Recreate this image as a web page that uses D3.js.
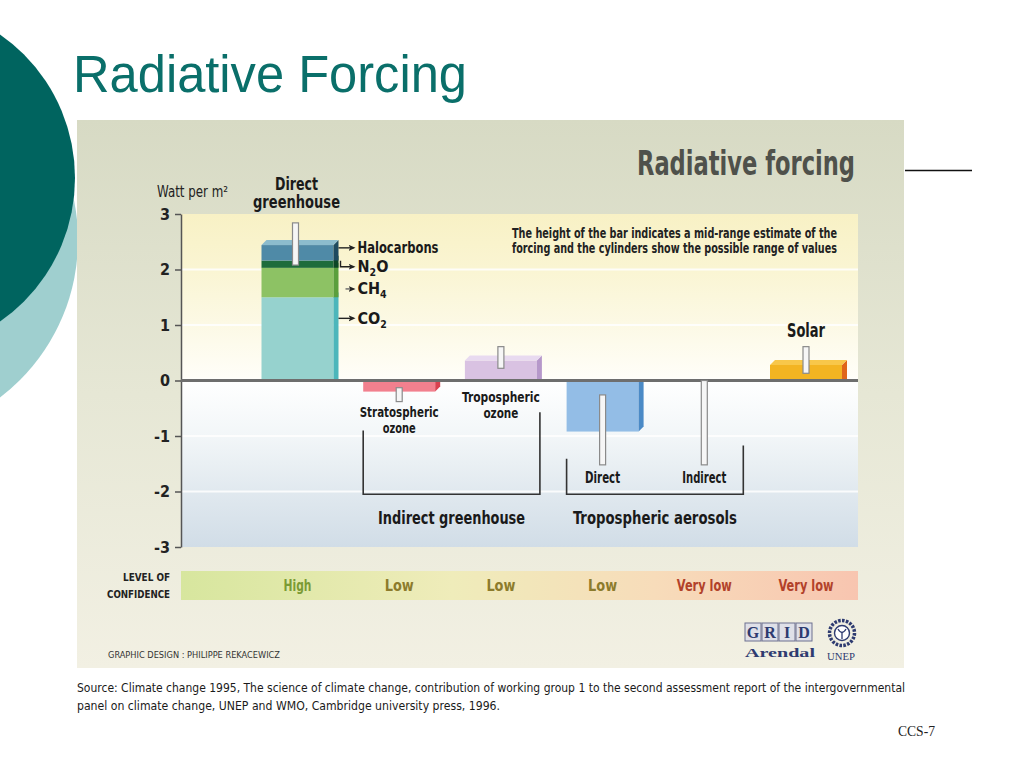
<!DOCTYPE html>
<html>
<head>
<meta charset="utf-8">
<script src="https://cdn.jsdelivr.net/npm/d3@7"></script>
<style>
  body { margin: 0; background: #fff; }
  svg { display: block; }
</style>
</head>
<body>
<div id="chart"></div>
<script>
// ---- data (W/m2) ----
const categories = ["Direct greenhouse", "Stratospheric ozone", "Tropospheric ozone",
                    "Direct aerosols", "Indirect aerosols", "Solar"];
const ghgGases  = ["CO2", "CH4", "N2O", "Halocarbons"];
const ghgValues = [1.50, 0.53, 0.13, 0.28];
const barValues = [null, -0.20, 0.36, -0.92, null, 0.28];   // greenhouse is the stack
const rangeLow  = [2.08, -0.38, 0.22, -1.52, -1.52, 0.13];
const rangeHigh = [2.84, -0.13, 0.61, -0.26, 0.00, 0.61];
const confidence = ["High", "Low", "Low", "Low", "Very low", "Very low"];
const yTicks = [3, 2, 1, 0, -1, -2, -3];

const NARROW = "'Liberation Sans Narrow','DejaVu Sans Condensed','Arial Narrow',sans-serif";
const SANS = "'Liberation Sans',Arial,sans-serif";
const SERIF = "'Liberation Serif','Times New Roman',serif";

const W = 1024, H = 768;
const svg = d3.select('#chart').append('svg').attr('width', W).attr('height', H);
const defs = svg.append('defs');

function grad(id, vertical, stops) {
  const g = defs.append('linearGradient').attr('id', id)
    .attr('x1', 0).attr('y1', 0).attr('x2', vertical ? 0 : 1).attr('y2', vertical ? 1 : 0);
  stops.forEach(s => g.append('stop').attr('offset', s[0]).attr('stop-color', s[1]));
}
grad('panelBg', true, [[0, '#d7dac4'], [0.5, '#e6e7d5'], [1, '#f2f0e3']]);
grad('plotBg', true, [[0, '#f8f1c5'], [0.17, '#faf5d3'], [0.33, '#fcf9e5'], [0.49, '#fffef8'],
                      [0.5, '#ffffff'], [0.67, '#f2f6f8'], [0.83, '#e1e9ef'], [1, '#d1dde7']]);
grad('confBg', false, [[0, '#d7e69e'], [0.4, '#efecba'], [0.7, '#f7dcba'], [1, '#f8c5b0']]);

defs.append('marker').attr('id', 'arr').attr('markerUnits', 'userSpaceOnUse')
  .attr('markerWidth', 7).attr('markerHeight', 7).attr('refX', 5).attr('refY', 3.5)
  .attr('orient', 'auto')
  .append('path').attr('d', 'M0,0.5 L7,3.5 L0,6.5 L1.8,3.5 Z').attr('fill', '#222');

function label(g, str, x, y, o) {
  const t = g.append('text').attr('x', x).attr('y', y).text(str)
    .attr('font-family', o.font || NARROW)
    .attr('font-size', o.size || 14)
    .attr('font-weight', o.bold ? 'bold' : 'normal')
    .attr('fill', o.fill || '#1a1a1a')
    .attr('text-anchor', o.anchor || 'start');
  if (o.w) t.attr('textLength', o.w).attr('lengthAdjust', 'spacingAndGlyphs');
  return t;
}

// ---- slide decoration ----
svg.append('circle').attr('cx', -120).attr('cy', 240).attr('r', 198).attr('fill', '#9fcfcf');
svg.append('circle').attr('cx', -100).attr('cy', 178).attr('r', 175).attr('fill', '#00645f');
label(svg, 'Radiative Forcing', 73, 92, {font: SANS, size: 51, fill: '#0a6f6a', w: 394});

svg.append('path').attr('d', 'M905,170.5H972').attr('stroke', '#111').attr('stroke-width', 1.5);
label(svg, 'CCS-7', 898, 736, {font: SERIF, size: 14, fill: '#222', w: 37});

// ---- picture panel ----
svg.append('rect').attr('x', 77).attr('y', 120).attr('width', 827).attr('height', 548)
  .attr('fill', 'url(#panelBg)');

const xL = 181, xR = 858;
const y = d3.scaleLinear().domain([-3, 3]).range([547, 214]);
const x = d3.scalePoint().domain(categories).range([297.5, 806]);
const barW = 72, dep = 5;

const chart = svg.append('g');
chart.append('rect').attr('x', xL).attr('y', y(3)).attr('width', xR - xL)
  .attr('height', y(-3) - y(3)).attr('fill', 'url(#plotBg)');
chart.selectAll('line.grid').data(yTicks.filter(d => d !== 0 && Math.abs(d) !== 3))
  .join('line').attr('class', 'grid')
  .attr('x1', xL).attr('x2', xR).attr('y1', d => y(d)).attr('y2', d => y(d))
  .attr('stroke', '#ffffff').attr('stroke-width', 2).attr('opacity', 0.85);

label(chart, 'Radiative forcing', 637, 175, {size: 33, bold: true, fill: '#4f514b', w: 218});
label(chart, 'The height of the bar indicates a mid-range estimate of the', 512, 238,
  {size: 13.5, bold: true, fill: '#222', w: 325});
label(chart, 'forcing and the cylinders show the possible range of values', 512, 253,
  {size: 13.5, bold: true, fill: '#222', w: 325});

// y axis
const axis = chart.append('g').attr('transform', `translate(${xL},0)`)
  .call(d3.axisLeft(y).tickValues(yTicks).tickSize(6).tickSizeOuter(0).tickPadding(5)
    .tickFormat(d => String(d)));
axis.select('.domain').attr('stroke', '#555').attr('stroke-width', 1.5);
axis.selectAll('.tick line').attr('stroke', '#555').attr('stroke-width', 1.5);
axis.selectAll('.tick text').attr('font-family', NARROW).attr('font-size', 16)
  .attr('font-weight', 'bold').attr('fill', '#222');

label(chart, 'Watt per m\u00b2', 157, 197, {size: 15, fill: '#222', w: 71});

// ---- 3D bars ----
function bar3d(g, cx, v0, v1, c, withTop) {
  const x0 = cx - barW / 2, x1 = cx + barW / 2;
  const yt = y(v1), yb = y(v0);
  const neg = v1 <= 0;
  g.append('rect').attr('x', x0).attr('y', yt).attr('width', barW).attr('height', yb - yt)
    .attr('fill', c.front);
  const side = neg
    ? [[x1, yt], [x1 + dep, yt], [x1 + dep, yb - dep], [x1, yb]]
    : [[x1, yt], [x1 + dep, yt - dep], [x1 + dep, yb], [x1, yb]];
  g.append('polygon').attr('points', side.join(' ')).attr('fill', c.side);
  if (withTop && !neg) {
    g.append('polygon')
      .attr('points', [[x0, yt], [x0 + dep, yt - dep], [x1 + dep, yt - dep], [x1, yt]].join(' '))
      .attr('fill', c.top);
  }
}

const ghgColors = {
  CO2: {front: '#96d2ce', side: '#4cb6bb', top: '#b8e2de'},
  CH4: {front: '#8dc264', side: '#5b9f3d', top: '#b0d68e'},
  N2O: {front: '#1d6c3b', side: '#0d4526', top: '#3d8a58'},
  Halocarbons: {front: '#4f8aa7', side: '#1e4a5f', top: '#8cbccd'}
};
const barColors = [null,
  {front: '#f2808e', side: '#d9414f', top: '#f6a0aa'},
  {front: '#d9c2e2', side: '#b698ca', top: '#e8daf0'},
  {front: '#93bde6', side: '#4b8ac6', top: '#b8d4f0'},
  null,
  {front: '#f3b422', side: '#e0661a', top: '#f8c74a'}];

const bars = chart.append('g');
const row = {};
ghgGases.forEach((k, i) => row[k] = ghgValues[i]);
const stacked = d3.stack().keys(ghgGases)([row]);
stacked.forEach((s, i) => {
  bar3d(bars, x(categories[0]), s[0][0], s[0][1], ghgColors[s.key], i === stacked.length - 1);
});
categories.forEach((c, i) => {
  const v = barValues[i];
  if (v === null) return;
  bar3d(bars, x(c), Math.min(0, v), Math.max(0, v), barColors[i], true);
});

// zero line
chart.append('line').attr('x1', xL).attr('x2', xR).attr('y1', y(0)).attr('y2', y(0))
  .attr('stroke', '#6e6e6e').attr('stroke-width', 3);

// cylinders = possible range
chart.selectAll('rect.range').data(categories).join('rect').attr('class', 'range')
  .attr('x', (d, i) => x(d) - (i === 0 ? 5 : 3))
  .attr('y', (d, i) => y(rangeHigh[i]))
  .attr('width', 6)
  .attr('height', (d, i) => y(rangeLow[i]) - y(rangeHigh[i]))
  .attr('fill', '#f6f6f6').attr('stroke', '#8a8a8a').attr('stroke-width', 1.2);

// greenhouse gas legend arrows
const legendAt = [1.12, 1.65, 2.05, 2.39];
const arrowX0 = x(categories[0]) + barW / 2 + 5;
ghgGases.forEach((k, i) => {
  const ay = y(legendAt[i]);
  const d = k === 'N2O' ? `M${arrowX0 + 2},${ay - 6}V${ay}H${arrowX0 + 15}`
          : `M${k === 'CH4' ? arrowX0 + 7 : arrowX0},${ay}H${arrowX0 + 15}`;
  chart.append('path').attr('d', d).attr('fill', 'none')
    .attr('stroke', k === 'CH4' ? '#666' : '#222').attr('stroke-width', 1.4)
    .attr('marker-end', 'url(#arr)');
  const t = chart.append('text').attr('x', arrowX0 + 19).attr('y', ay + 5.5)
    .attr('font-family', NARROW).attr('font-size', 16).attr('font-weight', 'bold').attr('fill', '#1a1a1a');
  if (k === 'Halocarbons') {
    t.text(k).attr('textLength', 81).attr('lengthAdjust', 'spacingAndGlyphs');
  } else {
    const m = k.match(/^([A-Z]+)(\d)(.*)$/);
    t.append('tspan').text(m[1]);
    t.append('tspan').text(m[2]).attr('font-size', 10.5).attr('dy', 4);
    if (m[3]) t.append('tspan').text(m[3]).attr('dy', -4);
  }
});

// category labels
const catLabels = [
  {lines: ['Direct', 'greenhouse'], y: 190, lh: 18, size: 17.5, w: [43, 87]},
  {lines: ['Stratospheric', 'ozone'], y: 417, lh: 16, size: 14, w: [79, 33]},
  {lines: ['Tropospheric', 'ozone'], y: 402, lh: 15.5, size: 14, w: [78, 35]},
  {lines: ['Direct'], y: 483, size: 15.5, w: [35]},
  {lines: ['Indirect'], y: 483, size: 15.5, w: [44]},
  {lines: ['Solar'], y: 337, size: 19, w: [38]}
];
catLabels.forEach((cl, i) => {
  cl.lines.forEach((ln, j) => {
    label(chart, ln, x(categories[i]) + (i === 0 ? -1 : 0), cl.y + j * (cl.lh || 0),
      {size: cl.size, bold: true, anchor: 'middle', w: cl.w[j]});
  });
});

// group brackets
const brackets = [
  {label: 'Indirect greenhouse', from: 1, to: 2, leftTop: -0.9, rightTop: -0.57, w: 147},
  {label: 'Tropospheric aerosols', from: 3, to: 4, leftTop: -1.41, rightTop: -1.17, w: 164}
];
const brBottom = -2.05;
brackets.forEach(b => {
  const bx0 = x(categories[b.from]) - barW / 2, bx1 = x(categories[b.to]) + barW / 2 + 3;
  chart.append('path')
    .attr('d', `M${bx0},${y(b.leftTop)}V${y(brBottom)}H${bx1}V${y(b.rightTop)}`)
    .attr('fill', 'none').attr('stroke', '#333').attr('stroke-width', 1.6);
  label(chart, b.label, (bx0 + bx1) / 2, y(brBottom) + 30,
    {size: 18.5, bold: true, anchor: 'middle', w: b.w});
});

// level of confidence strip
chart.append('rect').attr('x', xL).attr('y', 571).attr('width', xR - xL).attr('height', 29)
  .attr('fill', 'url(#confBg)');
label(chart, 'LEVEL OF', 170, 581, {size: 10.5, bold: true, anchor: 'end', fill: '#222', w: 47});
label(chart, 'CONFIDENCE', 170, 598, {size: 10.5, bold: true, anchor: 'end', fill: '#222', w: 63});
const confStyle = {'High': ['#7b9b35', 28], 'Low': ['#8c7b2c', 29], 'Very low': ['#b2412a', 55]};
confidence.forEach((c, i) => {
  label(chart, c, x(categories[i]), 591,
    {size: 16, bold: true, anchor: 'middle', fill: confStyle[c][0], w: confStyle[c][1]});
});

label(chart, 'GRAPHIC DESIGN : PHILIPPE REKACEWICZ', 108, 658, {size: 9.5, fill: '#333', w: 172});

// logos
const logo = chart.append('g');
['G', 'R', 'I', 'D'].forEach((ch, i) => {
  logo.append('rect').attr('x', 745 + i * 17).attr('y', 623).attr('width', 16).attr('height', 18)
    .attr('fill', '#dfe0e8').attr('stroke', '#6d7190').attr('stroke-width', 1);
  label(logo, ch, 753 + i * 17, 638, {font: SERIF, size: 16, bold: true, anchor: 'middle', fill: '#2e3b70'});
});
label(logo, 'Arendal', 745, 657, {font: SERIF, size: 13, bold: true, fill: '#2e3b70', w: 70});
logo.append('circle').attr('cx', 842).attr('cy', 633).attr('r', 12.5).attr('fill', 'none')
  .attr('stroke', '#2e3b70').attr('stroke-width', 3.5).attr('stroke-dasharray', '2.6 1.3');
logo.append('circle').attr('cx', 842).attr('cy', 633).attr('r', 7.5).attr('fill', '#fff')
  .attr('stroke', '#2e3b70').attr('stroke-width', 1.4);
logo.append('path').attr('d', 'M838,629 Q842,636 846,629 M842,633 V639').attr('fill', 'none')
  .attr('stroke', '#2e3b70').attr('stroke-width', 1.3);
label(logo, 'UNEP', 841, 660, {font: SERIF, size: 11, anchor: 'middle', fill: '#2e3b70', w: 28});

// source
label(svg, 'Source: Climate change 1995, The science of climate change, contribution of working group 1 to the second assessment report of the intergovernmental',
  77, 692, {size: 13, fill: '#1a1a1a', w: 828});
label(svg, 'panel on climate change, UNEP and WMO, Cambridge university press,  1996.',
  77, 710, {size: 13, fill: '#1a1a1a', w: 423});
</script>
</body>
</html>
